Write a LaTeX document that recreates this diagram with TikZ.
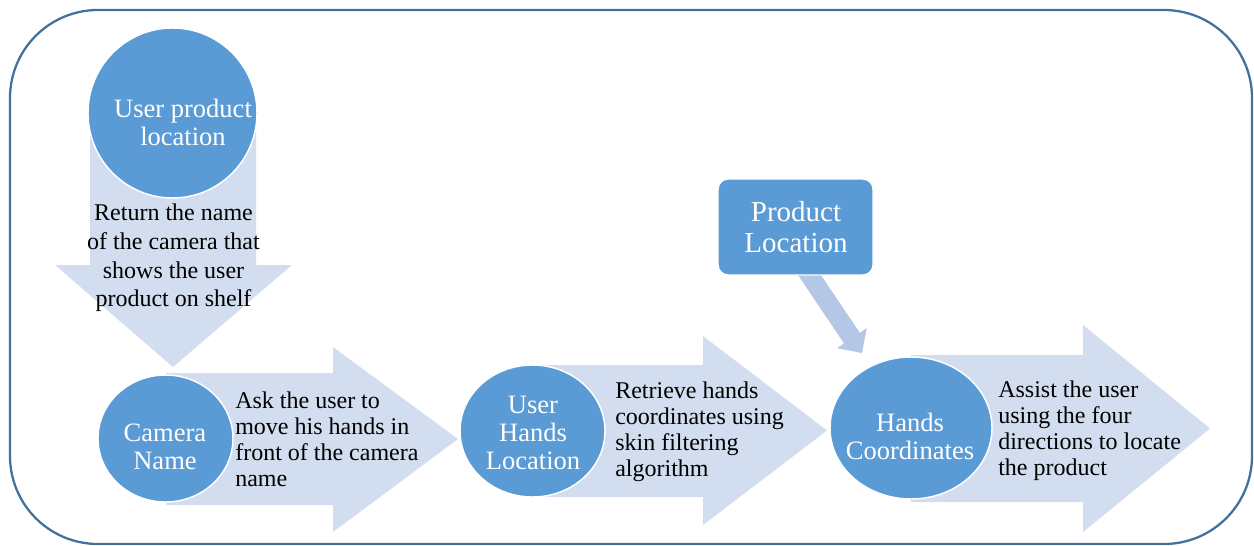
\documentclass[tikz,border=0pt]{standalone}
\usepackage{fontspec}
\setmainfont{Liberation Serif}
\usetikzlibrary{shapes.geometric}
\definecolor{circblue}{RGB}{91,155,213}
\definecolor{arrowlight}{RGB}{210,222,239}
\definecolor{smallarrow}{RGB}{180,199,231}
\definecolor{framecol}{RGB}{65,113,156}
\begin{document}
\begin{tikzpicture}[x=0.75pt,y=-0.75pt,
  bigarrow/.style={fill=arrowlight,draw=none},
  linkarrow/.style={fill=smallarrow,draw=none},
  stepcircle/.style={ellipse,fill=circblue,draw=white,line width=1.1pt,inner sep=0pt},
  stepbox/.style={rectangle,rounded corners=7.5pt,fill=circblue,draw=white,line width=1.1pt,inner sep=0pt},
  circtext/.style={text=white,align=center,inner sep=0pt,font=\fontsize{19.9}{21}\selectfont},
  boxtext/.style={text=white,align=center,inner sep=0pt,font=\fontsize{21.75}{23.25}\selectfont},
  desctext/.style={text=black,align=left,anchor=west,inner sep=0pt,font=\fontsize{18}{19.5}\selectfont},
  downtext/.style={text=black,align=center,inner sep=0pt,font=\fontsize{18}{21.5}\selectfont},
  frame/.style={draw=framecol,line width=1.7pt,rounded corners=66pt}
]
\useasboundingbox (0,0) rectangle (1254,546);
% outer frame
\draw[frame] (10,10) rectangle (1252,544);

% block arrows
\fill[bigarrow] (90,113) -- (256,113) -- (256,265) -- (292,265) -- (173,367) -- (55,265) -- (90,265) -- cycle;
\fill[bigarrow] (166,373) -- (333,373) -- (333,347) -- (458,439) -- (333,532) -- (333,505) -- (166,505) -- cycle;
\fill[bigarrow] (532,365) -- (703,365) -- (703,336) -- (827,430.5) -- (703,525) -- (703,497) -- (532,497) -- cycle;
\fill[bigarrow] (911,355) -- (1083,355) -- (1083,325) -- (1210,428.5) -- (1083,532) -- (1083,502) -- (911,502) -- cycle;

% small arrow from Product Location to Hands Coordinates
\coordinate (pltip) at (862,353);
\fill[linkarrow] (808.4,256.4) -- (859.8,332.8) -- (866.8,328.0) -- (pltip) -- (837.0,348.2) -- (844.0,343.4) -- (792.6,267.0) -- cycle;

% circles and box
\node[stepcircle,minimum width=126.75pt,minimum height=127.5pt] (upl) at (172.5,113) {};
\node[stepcircle,minimum width=101.25pt,minimum height=95.25pt] (cam) at (165.5,438.5) {};
\node[stepcircle,minimum width=108.75pt,minimum height=99pt] (uhl) at (532.5,431) {};
\node[stepcircle,minimum width=121.5pt,minimum height=106.5pt] (hc) at (911,428) {};
\node[stepbox,minimum width=116.25pt,minimum height=72pt] (pl) at (795.5,227) {};

% texts
\node[circtext] (uplt) at (183,122) {User product\\location};
\node[circtext] (camt) at (165,446.5) {Camera\\Name};
\node[circtext] (uhlt) at (533,432.5) {User\\Hands\\Location};
\node[circtext] (hct) at (910,436) {Hands\\Coordinates};
\node[boxtext] (plt) at (796,227) {Product\\Location};

\node[downtext] (d1) at (173.5,258) {Return the name\\of the camera that\\shows the user\\product on shelf};
\node[desctext] (d2) at (235,439.5) {Ask the user to\\move his hands in\\front of the camera\\name};
\node[desctext] (d3) at (615,432) {Retrieve hands\\coordinates using\\skin filtering\\algorithm};
\node[desctext] (d4) at (998,431) {Assist the user\\using the four\\directions to locate\\the product};
\end{tikzpicture}
\end{document}
